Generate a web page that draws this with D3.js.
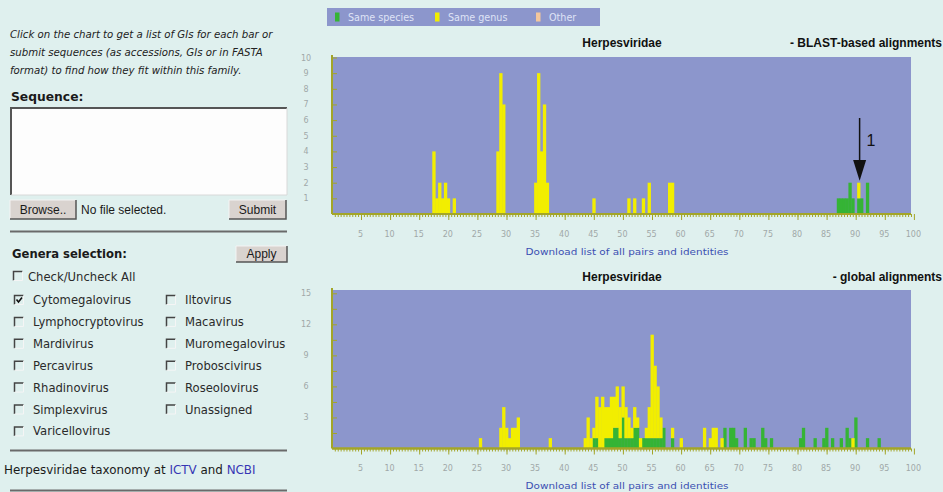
<!DOCTYPE html>
<html>
<head>
<meta charset="utf-8">
<script src="https://cdn.jsdelivr.net/npm/d3@7"></script>
<style>
  body { margin: 0; background: #dff0ee; }
  svg { display: block; }
</style>
</head>
<body>
<div id="chart"></div>
<script>
// Legend
const legendLabels = ["Same species", "Same genus", "Other"];
const legendColors = ["#35b435", "#f2ee00", "#f3c79c"];

// BLAST-based alignments (bins are 0.5% identity wide)
const blastBins    = [17.5, 18, 18.5, 19, 19.5, 20, 21, 28.5, 29, 29.5, 35, 35.5, 36, 36.5, 37, 45, 51, 52, 53.5, 54.5, 58, 58.5, 87, 87.5, 88, 88.5, 89, 89.5, 90.5, 91, 92];
const blastSpecies = [0, 0, 0, 0, 0, 0, 0, 0, 0, 0, 0, 0, 0, 0, 0, 0, 0, 0, 0, 0, 0, 0, 1, 1, 1, 1, 2, 1, 1, 1, 2];
const blastGenus   = [4, 1, 2, 1, 2, 1, 1, 4, 9, 7, 2, 9, 4, 7, 2, 1, 1, 1, 1, 2, 2, 2, 0, 0, 0, 0, 0, 0, 1, 0, 0];

// global alignments
const globalBins = [25.5, 29, 29.5, 30, 30.5, 31, 31.5, 32, 37.5,
  43.5, 44, 44.5, 45, 45.5, 46, 46.5, 47, 47.5, 48,
  48.5, 49, 49.5, 50, 50.5, 51, 51.5, 52, 52.5, 53,
  53.5, 54, 54.5, 55, 55.5, 56, 56.5, 57, 58.5, 60,
  64, 65, 65.5, 66, 67, 67.5, 68.5, 69, 69.5, 71,
  72, 72.5, 74, 74.5, 75.5, 80.5, 81, 83, 84.5, 85,
  86, 87.5, 88.5, 89, 89.5, 90, 92, 94];
const globalSpecies = [0, 0, 0, 0, 0, 0, 0, 0, 0,
  0, 0, 0, 1, 1, 0, 0, 1, 1, 1,
  2, 2, 1, 3, 1, 1, 1, 2, 2, 0,
  1, 1, 1, 1, 1, 1, 1, 2, 1, 0,
  0, 0, 0, 0, 0, 2, 2, 2, 1, 2,
  1, 1, 2, 1, 1, 1, 2, 1, 1, 2,
  1, 1, 2, 1, 0, 3, 1, 1];
const globalGenus = [1, 2, 4, 2, 1, 2, 2, 3, 1,
  1, 3, 1, 1, 4, 4, 5, 3, 3, 4,
  3, 4, 3, 3, 3, 2, 1, 2, 1, 1,
  0, 1, 3, 10, 7, 5, 2, 0, 1, 1,
  2, 1, 2, 2, 1, 0, 0, 0, 0, 0,
  0, 0, 0, 0, 0, 0, 0, 0, 0, 0,
  0, 0, 0, 0, 1, 0, 0, 0];

// Tick labels
const xTickLabels = [5, 10, 15, 20, 25, 30, 35, 40, 45, 50, 55, 60, 65, 70, 75, 80, 85, 90, 95, 100];
const blastYLabels = [1, 2, 3, 4, 5, 6, 7, 8, 9, 10];
const globalYLabels = [3, 6, 9, 12, 15];
const globalYTicks = [1.5, 3, 4.5, 6, 7.5, 9, 10.5, 12, 13.5, 15];

// Left panel texts
const introLines = [
  "Click on the chart to get a list of GIs for each bar or",
  "submit sequences (as accessions, GIs or in FASTA",
  "format) to find how they fit within this family."
];
const generaLeft = ["Cytomegalovirus", "Lymphocryptovirus", "Mardivirus", "Percavirus", "Rhadinovirus", "Simplexvirus", "Varicellovirus"];
const generaRight = ["Iltovirus", "Macavirus", "Muromegalovirus", "Proboscivirus", "Roseolovirus", "Unassigned"];
const checkedGenera = ["Cytomegalovirus"];

const width = 943, height = 492;
const plotBg = "#8c96cc";
const axisColor = "#a3a528";
const sans = "'DejaVu Sans', Verdana, sans-serif";
const arial = "'Liberation Sans', Arial, sans-serif";

const svg = d3.select("#chart").append("svg")
    .attr("width", width)
    .attr("height", height);

svg.append("rect").attr("width", width).attr("height", height).attr("fill", "#dff0ee");

// ---------- left panel ----------
const left = svg.append("g");

left.selectAll("text.intro")
    .data(introLines)
    .enter().append("text")
    .attr("class", "intro")
    .attr("x", 10)
    .attr("y", (d, i) => 38 + i * 18)
    .attr("font-family", sans)
    .attr("font-style", "italic")
    .attr("font-size", 10.2)
    .attr("fill", "#222")
    .text(d => d);

left.append("text")
    .attr("x", 11).attr("y", 101)
    .attr("font-family", sans).attr("font-weight", "bold").attr("font-size", 12.3)
    .attr("fill", "#1a1a1a")
    .text("Sequence:");

// textarea
left.append("rect").attr("x", 11).attr("y", 108).attr("width", 276).attr("height", 87)
    .attr("fill", "#fdfdfd");
left.append("path").attr("d", "M11,195 V108 H287")
    .attr("fill", "none").attr("stroke", "#555").attr("stroke-width", 2);
left.append("path").attr("d", "M287,108 V195 H11")
    .attr("fill", "none").attr("stroke", "#d8d8d8").attr("stroke-width", 1);

function button(x, y, w, h, label) {
  const g = left.append("g");
  g.append("rect").attr("x", x).attr("y", y).attr("width", w).attr("height", h).attr("fill", "#d9d3cf");
  g.append("path").attr("d", `M${x},${y + h} V${y} H${x + w}`)
      .attr("fill", "none").attr("stroke", "#f4f4f4").attr("stroke-width", 1);
  g.append("path").attr("d", `M${x + w},${y} V${y + h} H${x}`)
      .attr("fill", "none").attr("stroke", "#555").attr("stroke-width", 1.5);
  g.append("text").attr("x", x + w / 2).attr("y", y + h / 2 + 4)
      .attr("text-anchor", "middle")
      .attr("font-family", arial).attr("font-size", 12).attr("fill", "#1a1a1a")
      .text(label);
}
button(10, 200, 66, 19, "Browse..");
button(229, 200, 57, 19, "Submit");
button(236, 246, 51, 16, "Apply");

left.append("text").attr("x", 81).attr("y", 214)
    .attr("font-family", arial).attr("font-size", 12).attr("fill", "#1a1a1a")
    .text("No file selected.");

function separator(y) {
  left.append("line").attr("x1", 10).attr("x2", 287).attr("y1", y).attr("y2", y)
      .attr("stroke", "#6a6a6a").attr("stroke-width", 2);
}
separator(231.5);
separator(450.5);
separator(490.5);

left.append("text")
    .attr("x", 12).attr("y", 258)
    .attr("font-family", sans).attr("font-weight", "bold").attr("font-size", 11.6)
    .attr("fill", "#1a1a1a")
    .text("Genera selection:");

function checkbox(x, y, checked) {
  left.append("path").attr("d", `M${x},${y + 9} V${y} H${x + 9}`)
      .attr("fill", "none").attr("stroke", "#444").attr("stroke-width", 1.5);
  left.append("path").attr("d", `M${x + 9},${y} V${y + 9} H${x}`)
      .attr("fill", "none").attr("stroke", "#f5f5f5").attr("stroke-width", 1);
  if (checked) {
    left.append("path").attr("d", `M${x + 2},${y + 4} L${x + 4},${y + 6.5} L${x + 7.5},${y + 2}`)
        .attr("fill", "none").attr("stroke", "#111").attr("stroke-width", 1.6);
  }
}
function label(x, y, t) {
  left.append("text").attr("x", x).attr("y", y)
      .attr("font-family", sans).attr("font-size", 11.6).attr("fill", "#2a2a2a")
      .text(t);
}

checkbox(13.5, 271.5, false);
label(28, 281, "Check/Uncheck All");

generaLeft.forEach((g, i) => {
  const y = 304 + i * 21.9;
  checkbox(14.5, y - 8.5, checkedGenera.includes(g));
  label(33, y, g);
});
generaRight.forEach((g, i) => {
  const y = 304 + i * 21.9;
  checkbox(166.5, y - 8.5, checkedGenera.includes(g));
  label(185, y, g);
});

const tax = left.append("text").attr("x", 4).attr("y", 474)
    .attr("font-family", sans).attr("font-size", 11.9).attr("fill", "#1a1a1a");
tax.append("tspan").text("Herpesviridae taxonomy at ");
tax.append("tspan").attr("fill", "#3636b4").text("ICTV");
tax.append("tspan").text(" and ");
tax.append("tspan").attr("fill", "#3636b4").text("NCBI");

// ---------- legend ----------
svg.append("rect").attr("x", 327).attr("y", 8).attr("width", 273).attr("height", 18).attr("fill", plotBg);
const legendX = [335, 435, 536];
legendLabels.forEach((l, i) => {
  svg.append("rect").attr("x", legendX[i]).attr("y", 12.5).attr("width", 4.5).attr("height", 9)
      .attr("fill", legendColors[i]);
  svg.append("text").attr("x", legendX[i] + 13).attr("y", 21)
      .attr("font-family", sans).attr("font-size", 9.6).attr("fill", "#dfe3f6")
      .text(l);
});

// ---------- charts ----------
const x = d3.scaleLinear().domain([0, 100]).range([331.9, 913.9]);
const binW = x(0.5) - x(0);

function drawChart(opt) {
  const g = svg.append("g");
  const y = d3.scaleLinear().domain([0, opt.yMax]).range([opt.y0, opt.yTop]);

  g.append("rect").attr("x", 332).attr("y", opt.bgTop)
      .attr("width", 911 - 332).attr("height", opt.y0 - opt.bgTop)
      .attr("fill", plotBg);

  const data = opt.bins.map((b, i) => ({ bin: b, s: opt.species[i], g: opt.genus[i] }));

  // same species (bottom of the stack)
  g.selectAll("rect.sp").data(data.filter(d => d.s > 0)).enter()
      .append("rect").attr("class", "sp")
      .attr("x", d => x(d.bin) - binW / 2)
      .attr("width", binW + 0.4)
      .attr("y", d => y(d.s))
      .attr("height", d => y(0) - y(d.s))
      .attr("fill", legendColors[0]);

  // same genus stacked on top
  g.selectAll("rect.ge").data(data.filter(d => d.g > 0)).enter()
      .append("rect").attr("class", "ge")
      .attr("x", d => x(d.bin) - binW / 2)
      .attr("width", binW + 0.4)
      .attr("y", d => y(d.s + d.g))
      .attr("height", d => y(d.s) - y(d.s + d.g))
      .attr("fill", legendColors[1]);

  // x axis: minor ticks every 0.5, major every 5
  const minor = d3.range(1, 200).map(k => k / 2);
  const xMinor = g.append("g").attr("transform", `translate(0,${opt.y0})`)
      .call(d3.axisBottom(x).tickValues(minor).tickSize(3).tickSizeOuter(0).tickFormat(""));
  const xMajor = g.append("g").attr("transform", `translate(0,${opt.y0})`)
      .call(d3.axisBottom(x).tickValues(xTickLabels).tickSize(6).tickSizeOuter(0).tickPadding(11));
  [xMinor, xMajor].forEach(a => {
    a.select(".domain").attr("stroke", axisColor).attr("stroke-width", 2)
        .attr("d", `M332,0H911`);
    a.selectAll(".tick line").attr("stroke", axisColor);
  });
  xMajor.selectAll(".tick text")
      .attr("font-family", sans).attr("font-size", 8).attr("fill", "#9fa8a8")
      .attr("dx", -1);

  // y axis with inward ticks
  const yAx = g.append("g").attr("transform", "translate(332,0)")
      .call(d3.axisRight(y).tickValues(opt.yTicks).tickSize(5).tickSizeOuter(0).tickFormat(""));
  yAx.select(".domain").attr("stroke", axisColor).attr("stroke-width", 2)
      .attr("d", `M0,${opt.bgTop - 2}V${opt.y0}`);
  yAx.selectAll(".tick line").attr("stroke", axisColor);

  g.selectAll("text.ylab").data(opt.yLabels).enter()
      .append("text").attr("class", "ylab")
      .attr("x", 306).attr("y", d => y(d) + 3)
      .attr("text-anchor", "middle")
      .attr("font-family", sans).attr("font-size", 8).attr("fill", "#9fa8a8")
      .text(d => d);

  // titles
  g.append("text").attr("x", 622).attr("y", opt.titleY)
      .attr("text-anchor", "middle")
      .attr("font-family", arial).attr("font-weight", "bold").attr("font-size", 12)
      .attr("fill", "#111").text("Herpesviridae");
  g.append("text").attr("x", 942).attr("y", opt.titleY)
      .attr("text-anchor", "end")
      .attr("font-family", arial).attr("font-weight", "bold").attr("font-size", 12)
      .attr("fill", "#111").text(opt.subtitle);

  g.append("text").attr("x", 627).attr("y", opt.linkY)
      .attr("text-anchor", "middle")
      .attr("font-family", sans).attr("font-size", 9).attr("fill", "#3b4fb2")
      .attr("textLength", 203).attr("lengthAdjust", "spacingAndGlyphs")
      .text("Download list of all pairs and identities");

  return y;
}

const yBlast = drawChart({
  bins: blastBins, species: blastSpecies, genus: blastGenus,
  yMax: 10, y0: 214, yTop: 57.5, bgTop: 57,
  yTicks: blastYLabels, yLabels: blastYLabels,
  titleY: 47, subtitle: "- BLAST-based alignments", linkY: 255
});

drawChart({
  bins: globalBins, species: globalSpecies, genus: globalGenus,
  yMax: 15, y0: 448.5, yTop: 293.3, bgTop: 290,
  yTicks: globalYTicks, yLabels: globalYLabels,
  titleY: 281, subtitle: "- global alignments", linkY: 489
});

// annotation arrow pointing at the 90.5% bar
const ax = x(90.5) + 1;
svg.append("line").attr("x1", ax).attr("x2", ax).attr("y1", 118).attr("y2", 162)
    .attr("stroke", "#111").attr("stroke-width", 1.5);
svg.append("path")
    .attr("d", `M${ax - 6.5},160 L${ax + 6.5},160 L${ax},${yBlast(2) - 2} Z`)
    .attr("fill", "#111");
svg.append("text").attr("x", ax + 7).attr("y", 146)
    .attr("font-family", arial).attr("font-size", 16).attr("fill", "#111")
    .text("1");
</script>
</body>
</html>
